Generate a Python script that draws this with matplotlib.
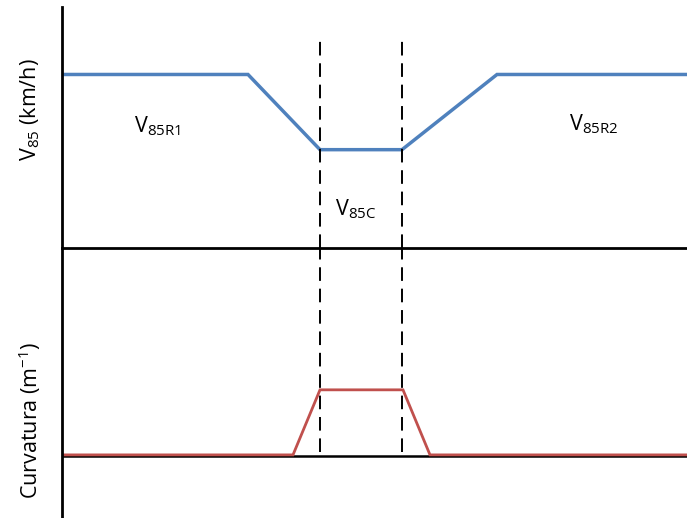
import matplotlib.pyplot as plt
from matplotlib.ticker import NullLocator

# Station along the alignment (m)
station_speed = [0, 186, 258, 340, 435, 625]
v85 = [90, 90, 51, 51, 90, 90]

station_curv = [0, 231, 258, 341, 368, 625]
curvature = [0, 0, 0.01, 0.01, 0, 0]

# Start and end of the circular curve
curve_limits = [258, 340]

BLUE = '#4f81bd'
RED = '#c0504d'
FONT = ['Open Sans', 'DejaVu Sans']

plt.rcParams['font.family'] = FONT

W, H = 687, 518
fig = plt.figure(figsize=(W / 100, H / 100), dpi=100)

x0 = 62 / W
ax1 = fig.add_axes([x0, (H - 248) / H, 1 - x0, (248 - 7) / H])
ax2 = fig.add_axes([x0, 0, 1 - x0, 270 / H])

for ax in (ax1, ax2):
    ax.set_xlim(0, 625)
    for s in ('top', 'right'):
        ax.spines[s].set_visible(False)
    ax.spines['left'].set_linewidth(2)
    ax.xaxis.set_major_locator(NullLocator())
    ax.yaxis.set_major_locator(NullLocator())
    ax.patch.set_alpha(0)

ax1.spines['bottom'].set_linewidth(2)
ax2.spines['bottom'].set_visible(False)

ax1.set_ylim(0, 125)
ax2.set_ylim(-0.0097, 0.0318)

# Speed profile
ax1.plot(station_speed, v85, color=BLUE, lw=2.5, solid_joinstyle='miter')

# Curvature diagram
ax2.axhline(-0.0002, color='black', lw=1.8)
ax2.plot(station_curv, curvature, color=RED, lw=2.0, solid_joinstyle='miter')

# Curve limits
for xc in curve_limits:
    ax1.axvline(xc, ymin=0, ymax=(248 - 38) / 241, color='black', lw=1.4,
                dashes=(7, 4))
    ax2.axvline(xc, ymin=(518 - 452) / 270, ymax=1, color='black', lw=1.4,
                dashes=(7, 4))

lbl = dict(fontsize=15.5, ha='left', va='center')
ax1.text(72, 63, r'V$_{\mathregular{85R1}}$', **lbl)
ax1.text(507, 64, r'V$_{\mathregular{85R2}}$', **lbl)
ax1.text(273, 20, r'V$_{\mathregular{85C}}$', **lbl)

fig.text(30 / W, 1 - 110 / H, r'V$_{\mathregular{85}}$ (km/h)', fontsize=15.5,
         rotation=90, ha='center', va='center')
fig.text(30 / W, 1 - 420 / H, r'Curvatura (m$^{\mathregular{-1}}$)', fontsize=15.5,
         rotation=90, ha='center', va='center')

fig.savefig('out.png', dpi=100, facecolor='white')
